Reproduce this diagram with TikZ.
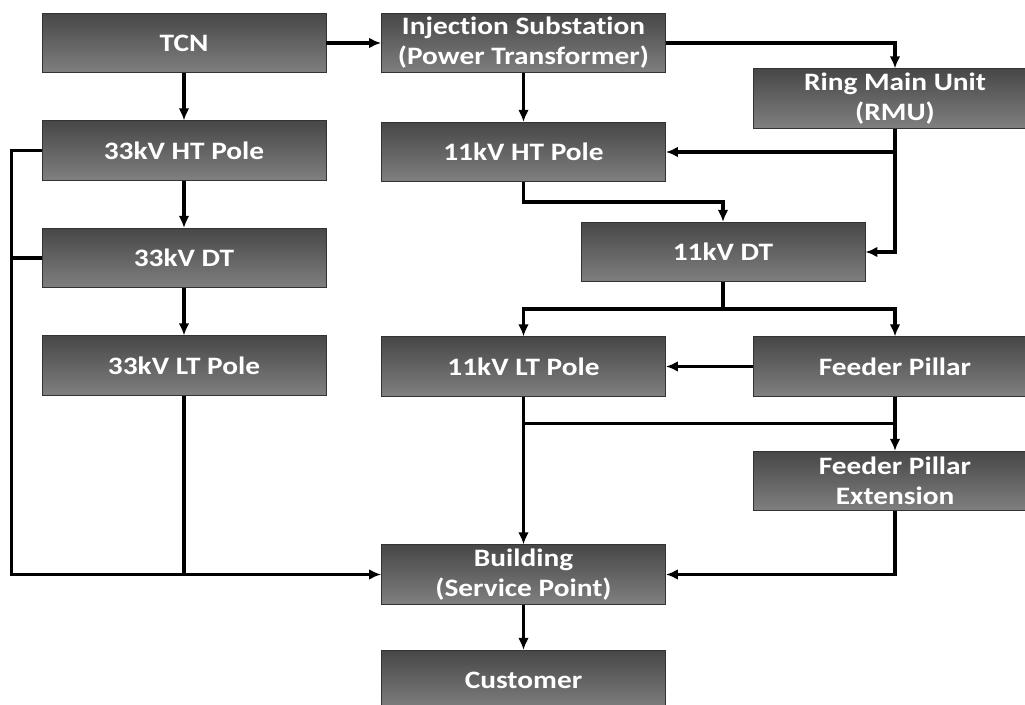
\documentclass[tikz,border=0pt]{standalone}
\usepackage{fontspec}
\setmainfont{Carlito}[Ligatures=NoCommon, FakeStretch=1.17]
\usetikzlibrary{arrows.meta}
\begin{document}
\begin{tikzpicture}[x=0.75pt, y=-0.75pt, >={Latex[length=9pt,width=8pt]},
    box/.style={draw=black!80, line width=0.6pt, top color=black!72, bottom color=black!50,
        minimum width=213pt, minimum height=44.5pt, inner sep=0pt, align=center,
        text=white, font=\fontsize{18.8}{22.5}\selectfont\bfseries},
    link/.style={line width=2.5pt}]
\clip (0,0) rectangle (1025,705);

% 33kV branch
\node[box] (tcn)  at (184,43)    {TCN};
\node[box] (ht33) at (184,150.5) {33kV HT Pole};
\node[box] (dt33) at (184,258)   {33kV DT};
\node[box] (lt33) at (184,365.5) {33kV LT Pole};

% 11kV branch
\node[box] (inj)  at (523.5,43)    {Injection Substation\\(Power Transformer)};
\node[box] (rmu)  at (895,98.5)    {Ring Main Unit\\(RMU)};
\node[box] (ht11) at (523.5,152)   {11kV HT Pole};
\node[box] (dt11) at (723,252)     {11kV DT};
\node[box] (lt11) at (523.5,366.5) {11kV LT Pole};
\node[box] (fp)   at (895,366.5)   {Feeder Pillar};
\node[box] (fpe)  at (895,481)     {Feeder Pillar\\Extension};
\node[box] (bld)  at (523.5,574.5) {Building\\(Service Point)};
\node[box] (cust) at (523.5,680)   {Customer};

\draw[link,->] (tcn)--(inj);
\draw[link,->] (tcn)--(ht33);
\draw[link,->] (ht33)--(dt33);
\draw[link,->] (dt33)--(lt33);
\draw[link,->] (ht33.west)--++(-30,0)|-(bld.west);
\draw[link] (dt33.west)--++(-30,0);
\draw[link] (lt33.south)--(lt33.south|-bld.west);

\draw[link,->] (inj.east)-|(rmu.north);
\draw[link,->] (inj)--(ht11);
\draw[link,->] (rmu.south)|-(dt11.east);
\coordinate (rmuj) at (rmu.south|-ht11.east);
\draw[link,->] (rmuj)--(ht11.east);
\draw[link,->] (ht11.south)--++(0,20)-|(dt11.north);
\draw[link,->] (dt11.south)--++(0,27)-|(lt11.north);
\draw[link,->] (dt11.south)--++(0,27)-|(fp.north);
\draw[link,->] (fp)--(lt11);
\draw[link,->] (fp)--(fpe);
\path (fp.south)++(0,27) coordinate (fpj);
\draw[link] (fpj)--(fpj-|lt11.south);
\draw[link,->] (lt11)--(bld);
\draw[link,->] (fpe.south)|-(bld.east);
\draw[link,->] (bld)--(cust);
\end{tikzpicture}
\end{document}
